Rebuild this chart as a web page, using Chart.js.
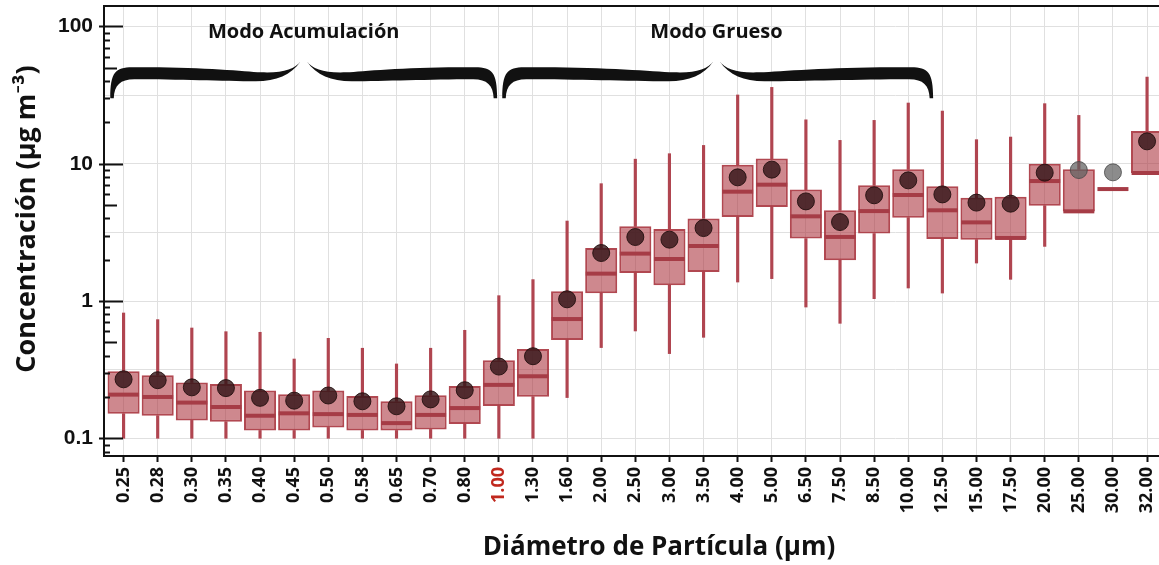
<!DOCTYPE html>
<html>
<head>
<meta charset="utf-8">
<script src="https://cdn.jsdelivr.net/npm/chart.js@4"></script>
<style>
html, body { margin: 0; padding: 0; background: #fff; overflow: hidden; }
</style>
</head>
<body>
<canvas id="myChart" width="1159" height="565"></canvas>
<script>
// particle diameter classes (µm)
var sizes = ['0.25', '0.28', '0.30', '0.35', '0.40', '0.45', '0.50', '0.58', '0.65', '0.70', '0.80', '1.00',
    '1.30', '1.60', '2.00', '2.50', '3.00', '3.50', '4.00', '5.00', '6.50', '7.50', '8.50', '10.00',
    '12.50', '15.00', '17.50', '20.00', '25.00', '30.00', '32.00'];

// box plot statistics, µg m-3
var whiskerLow = [0.1, 0.1, 0.1, 0.1, 0.1, 0.1, 0.1, 0.1, 0.1, 0.1, 0.1, 0.1,
    0.1, 0.198, 0.458, 0.605, 0.414, 0.544, 1.375, 1.456, 0.904, 0.688, 1.04, 1.244,
    1.143, 1.891, 1.439, 2.5, null, null, null];
var q1 = [0.151, 0.146, 0.135, 0.132, 0.114, 0.114, 0.12, 0.114, 0.114, 0.116, 0.127, 0.172,
    0.201, 0.52, 1.138, 1.6, 1.301, 1.626, 4.09, 4.84, 2.85, 1.98, 3.1, 4.05,
    2.83, 2.8, 2.83, 4.95, 4.48, null, 8.56];
var median = [0.208, 0.2, 0.182, 0.169, 0.146, 0.152, 0.15, 0.148, 0.129, 0.148, 0.166, 0.245,
    0.283, 0.739, 1.583, 2.215, 2.023, 2.516, 6.26, 7.04, 4.14, 2.93, 4.52, 5.92,
    4.58, 3.74, 2.88, 7.48, 4.5, 6.54, 8.56];
var q3 = [0.308, 0.288, 0.255, 0.249, 0.223, 0.209, 0.223, 0.203, 0.186, 0.206, 0.24, 0.37,
    0.447, 1.177, 2.432, 3.5, 3.346, 4.0, 9.85, 10.9, 6.48, 4.58, 6.96, 9.1,
    6.85, 5.66, 5.76, 10.0, 9.1, null, 17.3];
var whiskerHigh = [0.818, 0.732, 0.636, 0.598, 0.592, 0.378, 0.535, 0.453, 0.348, 0.453, 0.612, 1.094,
    1.432, 3.826, 7.16, 10.8, 11.84, 13.6, 31.7, 36, 20.9, 14.8, 20.7, 27.7,
    24.2, 14.98, 15.65, 27.4, 22.5, null, 42.8];
var mean = [0.269, 0.265, 0.235, 0.232, 0.197, 0.188, 0.205, 0.186, 0.171, 0.192, 0.224, 0.333,
    0.396, 1.029, 2.237, 2.926, 2.8, 3.4, 7.96, 9.06, 5.32, 3.76, 5.89, 7.57,
    5.98, 5.21, 5.12, 8.61, 9.0, 8.66, 14.56];
var grayMeans = ['25.00', '30.00'];

var yMajorTicks = [0.1, 1, 10, 100];
var yHalfTicks = [0.316, 3.16, 31.6];

var modes = [
    { label: 'Modo Acumulación', from: -0.39, cusp: 5.28, to: 10.95 },
    { label: 'Modo Grueso', from: 11.1, cusp: 17.38, to: 23.73 }
];

var boxFill = 'rgba(170, 50, 60, 0.58)';
var boxLine = 'rgba(168, 52, 62, 0.9)';
var txtFont = '"Open Sans", Lato, sans-serif';

var lowerW = [], upperW = [], boxes = [], meds = [], means = [];
sizes.forEach(function (s, i) {
    if (whiskerLow[i] != null && q1[i] != null) lowerW.push({ x: i, y: [whiskerLow[i], q1[i]] });
    if (whiskerHigh[i] != null && q3[i] != null) upperW.push({ x: i, y: [q3[i], whiskerHigh[i]] });
    if (q1[i] != null && q3[i] != null) boxes.push({ x: i, y: [q1[i], q3[i]] });
    meds.push({ x: i, y: median[i] });
    means.push({ x: i, y: mean[i] });
});

function halfBrace(c, xe, xc, yTip, yTop) {
    var d = xc > xe ? 1 : -1;
    var L = Math.abs(xc - xe);
    function X(u) { return xe + d * u; }
    c.beginPath();
    c.moveTo(X(0), yTip);
    c.bezierCurveTo(X(0), yTop + 5, X(5), yTop, X(22), yTop);
    c.bezierCurveTo(X(L * 0.45), yTop - 1, X(L * 0.7), yTop + 4, X(L - 40), yTop + 5);
    c.bezierCurveTo(X(L - 18), yTop + 6, X(L - 6), yTop + 2, X(L), yTop - 6);
    c.bezierCurveTo(X(L - 10), yTop + 8, X(L - 24), yTop + 14, X(L - 45), yTop + 14);
    c.bezierCurveTo(X(L * 0.6), yTop + 14, X(L * 0.35), yTop + 12, X(24), yTop + 12);
    c.bezierCurveTo(X(10), yTop + 12, X(4), yTop + 18, X(3.5), yTip);
    c.closePath();
    c.fill();
}

var decorations = {
    id: 'decorations',
    afterDraw: function (chart) {
        var c = chart.ctx, xs = chart.scales.x, ys = chart.scales.y, area = chart.chartArea;
        c.save();
        c.strokeStyle = '#111';
        c.fillStyle = '#111';

        // top frame
        c.lineWidth = 2;
        c.beginPath();
        c.moveTo(area.left - 1, area.top);
        c.lineTo(area.right, area.top);
        c.stroke();

        // y tick marks: majors cross the axis, minors inside
        var left = area.left;
        for (var k = -2; k <= 2; k++) {
            for (var m = 1; m <= 9; m++) {
                var v = m * Math.pow(10, k);
                if (v < ys.min || v > ys.max) continue;
                var py = Math.round(ys.getPixelForValue(v)) + 0.5;
                var x0 = left, x1 = left + 6;
                if (m === 1) { x0 = left - 5; x1 = left + 19; }
                else if (m === 5) { x1 = left + 13; }
                c.lineWidth = 2;
                c.beginPath();
                c.moveTo(x0, py);
                c.lineTo(x1, py);
                c.stroke();
            }
        }

        // braces and mode labels
        modes.forEach(function (md) {
            var xl = xs.getPixelForValue(md.from);
            var xm = xs.getPixelForValue(md.cusp);
            var xr = xs.getPixelForValue(md.to);
            var yTip = ys.getPixelForValue(30);
            var yTop = yTip - 31;
            halfBrace(c, xl, xm - 3, yTip, yTop);
            halfBrace(c, xr, xm + 3, yTip, yTop);
            c.font = 'bold 20px ' + txtFont;
            c.textAlign = 'center';
            c.textBaseline = 'middle';
            c.fillText(md.label, xm, 32);
        });

        // axis titles
        c.font = 'bold 26px ' + txtFont;
        c.textAlign = 'center';
        c.textBaseline = 'middle';
        c.fillText('Diámetro de Partícula (µm)', 659, 548);
        c.font = 'bold 27px ' + txtFont;
        c.save();
        c.translate(27, 219);
        c.rotate(-Math.PI / 2);
        c.fillText('Concentración (µg m⁻³)', 0, 0);
        c.restore();

        c.restore();
    }
};

var ctx = document.getElementById('myChart').getContext('2d');
var myChart = new Chart(ctx, {
    type: 'bar',
    data: {
        datasets: [{
            type: 'scatter',
            data: means,
            order: 0,
            pointRadius: 8.5,
            pointBackgroundColor: sizes.map(function (s) {
                return grayMeans.indexOf(s) >= 0 ? 'rgba(95, 95, 95, 0.72)' : 'rgba(50, 20, 22, 0.8)';
            }),
            pointBorderColor: sizes.map(function (s) {
                return grayMeans.indexOf(s) >= 0 ? 'rgba(70, 70, 70, 0.8)' : 'rgba(35, 15, 15, 0.9)';
            }),
            pointBorderWidth: 1
        }, {
            type: 'scatter',
            data: meds,
            order: 1,
            pointStyle: 'line',
            pointRadius: 15.5,
            pointBorderWidth: 4,
            pointBorderColor: '#a63c46'
        }, {
            type: 'bar',
            data: boxes,
            order: 2,
            grouped: false,
            barPercentage: 0.94,
            categoryPercentage: 1,
            backgroundColor: boxFill,
            borderColor: boxLine,
            borderWidth: 2,
            borderSkipped: false
        }, {
            type: 'bar',
            data: upperW,
            order: 3,
            grouped: false,
            barThickness: 2.5,
            backgroundColor: '#b04550',
            borderWidth: 0
        }, {
            type: 'bar',
            data: lowerW,
            order: 3,
            grouped: false,
            barThickness: 2.5,
            backgroundColor: '#b04550',
            borderWidth: 0
        }]
    },
    options: {
        responsive: false,
        animation: false,
        layout: { autoPadding: false, padding: { top: 6, left: 0, right: 0, bottom: 0 } },
        plugins: {
            legend: { display: false },
            tooltip: { enabled: false }
        },
        scales: {
            x: {
                type: 'linear',
                min: -0.574,
                max: 30.35,
                offset: false,
                afterBuildTicks: function (scale) {
                    scale.ticks = sizes.map(function (s, i) { return { value: i }; });
                },
                afterFit: function (scale) {
                    scale.height = 109;
                    scale.paddingLeft = 0;
                    scale.paddingRight = 0;
                },
                grid: { offset: false, color: '#e0e0e0', lineWidth: 1, tickLength: 6, tickColor: '#111', tickWidth: 2 },
                border: { color: '#111', width: 2 },
                ticks: {
                    autoSkip: false,
                    maxRotation: 90,
                    minRotation: 90,
                    padding: 5,
                    font: { family: txtFont, size: 18, weight: 'bold' },
                    color: function (context) {
                        return sizes[context.tick.value] === '1.00' ? '#c0281e' : '#111';
                    },
                    callback: function (value) { return sizes[value]; }
                }
            },
            y: {
                type: 'logarithmic',
                min: 0.0743,
                max: 141,
                afterBuildTicks: function (scale) {
                    scale.ticks = yMajorTicks.concat(yHalfTicks)
                        .sort(function (a, b) { return a - b; })
                        .map(function (v) { return { value: v }; });
                },
                afterFit: function (scale) {
                    scale.width = 104;
                    scale.paddingTop = 0;
                    scale.paddingBottom = 0;
                },
                grid: { color: '#e0e0e0', lineWidth: 1, tickLength: 6, tickColor: 'rgba(0,0,0,0)' },
                border: { color: '#111', width: 2 },
                ticks: {
                    padding: 5,
                    font: { family: '"Liberation Sans", Arial, sans-serif', size: 21, weight: 'bold' },
                    color: '#111',
                    callback: function (value) {
                        return yMajorTicks.indexOf(value) >= 0 ? String(value) : '';
                    }
                }
            }
        }
    },
    plugins: [decorations]
});
</script>
</body>
</html>
